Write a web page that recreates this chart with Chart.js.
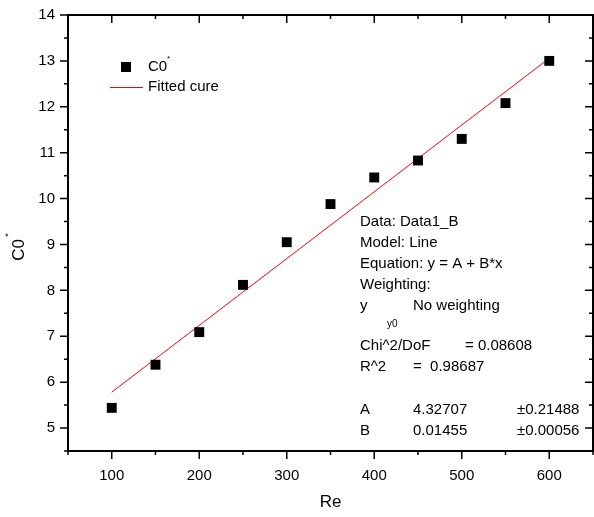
<!DOCTYPE html>
<html>
<head>
<meta charset="utf-8">
<script src="https://cdn.jsdelivr.net/npm/chart.js@4"></script>
<style>
  html, body { margin:0; padding:0; background:#fff; }
  #wrap { width:594px; height:517px; }
</style>
</head>
<body>
<div id="wrap"><canvas id="chart" width="594" height="517"></canvas></div>
<script>
// measured points (Re vs C0*)
const reValues = [100, 150, 200, 250, 300, 350, 400, 450, 500, 550, 600];
const c0Values = [5.44, 6.38, 7.09, 8.12, 9.05, 9.88, 10.46, 10.83, 11.30, 12.08, 13.00];
// linear fit y = A + B*x
const fitA = 4.32707;
const fitB = 0.01455;
const fitX = [100, 600];
const xTicks = [100, 200, 300, 400, 500, 600];
const yTicks = [5, 6, 7, 8, 9, 10, 11, 12, 13, 14];

const FONT = "'Liberation Sans', Arial, sans-serif";

const fitPoints = fitX.map(x => ({x: x, y: fitA + fitB * x}));

// minor ticks + mirrored top/right ticks, legend and fit report
const framePlugin = {
    id: 'frame',
    afterDraw(chart) {
        const ctx = chart.ctx;
        const xs = chart.scales.x, ys = chart.scales.y;
        const a = chart.chartArea;
        ctx.save();
        ctx.strokeStyle = '#000';
        ctx.lineWidth = 2;
        ctx.strokeRect(a.left, a.top, a.right - a.left, a.bottom - a.top);
        ctx.lineWidth = 1.5;
        ctx.beginPath();
        for (let v = 50; v <= 650; v += 50) {
            const px = xs.getPixelForValue(v);
            const major = v % 100 === 0;
            const len = major ? 8 : 4;
            ctx.moveTo(px, a.bottom); ctx.lineTo(px, a.bottom + len);
            ctx.moveTo(px, a.top); ctx.lineTo(px, a.top + len);
        }
        for (let v = 4.5; v <= 14; v += 0.5) {
            const py = ys.getPixelForValue(v);
            const major = Math.abs(v - Math.round(v)) < 0.01;
            const len = major ? 8 : 4;
            ctx.moveTo(a.left, py); ctx.lineTo(a.left - len, py);
            ctx.moveTo(a.right, py); ctx.lineTo(a.right - len, py);
        }
        ctx.stroke();

        // legend
        ctx.fillStyle = '#000';
        ctx.fillRect(121, 62, 10, 10);
        ctx.strokeStyle = '#ff0000';
        ctx.lineWidth = 1;
        ctx.beginPath(); ctx.moveTo(110, 87.5); ctx.lineTo(143, 87.5); ctx.stroke();
        ctx.font = '15px ' + FONT;
        ctx.textBaseline = 'middle';
        ctx.fillText('C0', 148, 67);
        ctx.font = '8px ' + FONT;
        ctx.fillText('*', 167, 59);
        ctx.font = '15px ' + FONT;
        ctx.fillText('Fitted cure', 148, 87);

        // fit report
        const L = 360;
        ctx.fillText('Data: Data1_B', L, 222);
        ctx.fillText('Model: Line', L, 243);
        ctx.fillText('Equation: y = A + B*x', L, 264);
        ctx.fillText('Weighting:', L, 285);
        ctx.fillText('y', L, 306);
        ctx.fillText('No weighting', 413, 306);
        ctx.font = '10px ' + FONT;
        ctx.fillText('y0', 387, 324);
        ctx.font = '15px ' + FONT;
        ctx.fillText('Chi^2/DoF', L, 346);
        ctx.fillText('= 0.08608', 465, 346);
        ctx.fillText('R^2', L, 367);
        ctx.fillText('=  0.98687', 413, 367);
        ctx.fillText('A', L, 410);
        ctx.fillText('4.32707', 413, 410);
        ctx.fillText('\u00b10.21488', 517, 410);
        ctx.fillText('B', L, 431);
        ctx.fillText('0.01455', 413, 431);
        ctx.fillText('\u00b10.00056', 517, 431);

        // y axis title with superscript
        ctx.save();
        ctx.translate(19, 250);
        ctx.rotate(-Math.PI / 2);
        ctx.textAlign = 'center';
        ctx.font = '17px ' + FONT;
        ctx.fillText('C0', 0, 0);
        ctx.font = '9px ' + FONT;
        ctx.fillText('*', 15, -10);
        ctx.restore();

        ctx.restore();
    }
};

new Chart(document.getElementById('chart'), {
    type: 'scatter',
    data: {
        datasets: [
            {
                label: 'C0*',
                data: reValues.map((x, i) => ({x: x, y: c0Values[i]})),
                pointStyle: 'rect',
                pointRadius: 7,
                pointHoverRadius: 7,
                backgroundColor: '#000',
                borderColor: '#000',
                borderWidth: 0
            },
            {
                label: 'Fitted cure',
                data: fitPoints,
                type: 'line',
                showLine: true,
                pointRadius: 0,
                borderColor: '#ff0000',
                borderWidth: 1,
                fill: false
            }
        ]
    },
    options: {
        responsive: false,
        animation: false,
        layout: { autoPadding: false, padding: { top: 15, right: 1, left: 0, bottom: 0 } },
        plugins: { legend: { display: false }, tooltip: { enabled: false } },
        scales: {
            x: {
                type: 'linear', min: 50, max: 650,
                afterBuildTicks: s => { s.ticks = xTicks.map(v => ({value: v})); },
                afterFit: s => { s.height = 66; s.paddingLeft = 0; s.paddingRight = 0; },
                grid: { display: false, drawTicks: false },
                border: { display: false },
                ticks: { color: '#000', font: { family: FONT, size: 15 }, padding: 16 },
                title: { display: true, text: 'Re', color: '#000', font: { family: FONT, size: 17 }, padding: { top: 10 } }
            },
            y: {
                type: 'linear', min: 4.5, max: 14,
                afterBuildTicks: s => { s.ticks = yTicks.map(v => ({value: v})); },
                afterFit: s => { s.width = 68; s.paddingTop = 0; s.paddingBottom = 0; },
                grid: { display: false, drawTicks: false },
                border: { display: false },
                ticks: { color: '#000', font: { family: FONT, size: 15 }, padding: 13 }
            }
        }
    },
    plugins: [framePlugin]
});
</script>
</body>
</html>
